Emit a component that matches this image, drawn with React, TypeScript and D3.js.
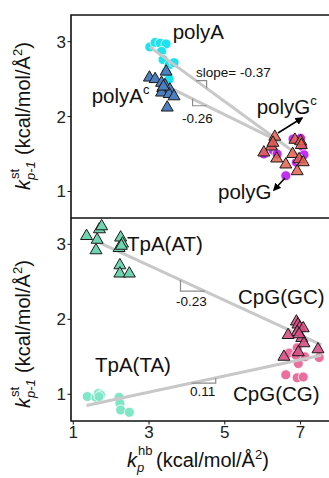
import React from "react";
import * as d3 from "d3";

type P = [number, number];

const xTicks = [1, 3, 5, 7];
const yTicks = [1, 2, 3];

const polyA: P[] = [[3.02,2.93],[3.16,2.99],[3.29,2.98],[3.45,2.97],[3.33,2.87],[3.37,2.76],[3.53,2.69],[3.66,2.72],[3.45,2.59],[3.53,2.50]];
const polyAc: P[] = [[3.01,2.52],[3.16,2.50],[3.45,2.60],[3.33,2.45],[3.42,2.42],[3.36,2.38],[3.55,2.36],[3.33,2.32],[3.53,2.30],[3.66,2.27],[3.48,2.12],[3.38,2.40]];
const polyG: P[] = [[6.61,1.21],[6.03,1.50],[6.28,1.55],[6.38,1.50],[6.80,1.70],[7.00,1.71],[7.05,1.60],[7.09,1.49],[6.89,1.39],[6.97,1.43],[6.25,1.62]];
const polyGc: P[] = [[6.32,1.73],[6.23,1.60],[6.03,1.52],[6.37,1.44],[6.61,1.36],[6.79,1.50],[6.85,1.69],[7.00,1.67],[6.96,1.43],[7.07,1.39],[6.91,1.27],[6.27,1.65],[7.02,1.62]];

const tpaAT: P[] = [[1.35,3.11],[1.63,3.06],[1.69,3.20],[1.75,3.24],[1.60,2.92],[2.25,3.09],[2.30,3.01],[2.21,2.95],[2.27,2.98],[2.23,2.72],[2.23,2.61],[2.48,2.61]];
const cpgGC: P[] = [[6.89,1.97],[6.93,1.93],[6.98,1.89],[6.91,1.83],[7.07,1.88],[6.67,1.79],[7.03,1.75],[7.09,1.68],[6.94,1.56],[7.46,1.60],[6.56,1.50],[6.96,1.80]];
const cpgCG: P[] = [[6.70,1.55],[6.91,1.62],[6.98,1.48],[6.94,1.41],[6.61,1.26],[6.91,1.22],[7.07,1.23],[7.49,1.49],[7.11,1.50],[6.88,1.52]];
const tpaTA: P[] = [[1.37,0.97],[1.60,0.96],[1.66,1.01],[1.72,0.99],[2.21,0.96],[2.23,0.88],[2.25,0.79],[2.48,0.76],[1.68,0.97]];

// regression fits: [x0, y0, x1, y1]
const fitPolyA = [3.02, 2.93, 6.98, 1.47];
const fitPolyAc = [3.01, 2.52, 6.35, 1.69];
const fitAT = [1.53, 3.06, 7.55, 1.66];
const fitTA = [1.35, 0.85, 7.55, 1.52];

// slope marker x-ranges
const slopeMarkPolyA = [4.24, 4.52];
const slopeMarkPolyAc = [4.15, 4.52];
const slopeMarkAT = [3.83, 4.47];
const slopeMarkTA = [4.12, 4.76];

const FONT = "Liberation Sans, Arial, sans-serif";

const x = d3.scaleLinear().domain([0.94, 7.75]).range([71, 329]);
const yTop = d3.scaleLinear().domain([0.646, 3.356]).range([218, 15]);
const yBot = d3.scaleLinear().domain([0.644, 3.351]).range([421, 218]);

const lineAt = (f: number[], xv: number) => f[1] + ((f[3] - f[1]) / (f[2] - f[0])) * (xv - f[0]);

function Circles({ data, y, fill, stroke }: { data: P[]; y: any; fill: string; stroke: string }) {
  return (
    <g>
      {data.map((d, i) => (
        <circle key={i} cx={x(d[0])} cy={y(d[1])} r={5} fill={fill} stroke={stroke} strokeWidth={0.8} />
      ))}
    </g>
  );
}

function Triangles({ data, y, fill, opacity = 1 }: { data: P[]; y: any; fill: string; opacity?: number }) {
  const sym = d3.symbol().type(d3.symbolTriangle).size(62);
  const path = sym() as string;
  return (
    <g>
      {data.map((d, i) => (
        <path key={i} d={path} transform={`translate(${x(d[0])},${y(d[1])})`} fill={fill} fillOpacity={opacity} stroke="#1a1a1a" strokeWidth={1} />
      ))}
    </g>
  );
}

function Fit({ f, y }: { f: number[]; y: any }) {
  return <line x1={x(f[0])} y1={y(f[1])} x2={x(f[2])} y2={y(f[3])} stroke="#c8c8c8" strokeWidth={3} />;
}

// mode "above": horizontal then vertical; "below": vertical then horizontal
function SlopeMark({ f, r, y, mode }: { f: number[]; r: number[]; y: any; mode: "above" | "below" }) {
  const x1 = x(r[0]), x2 = x(r[1]);
  const y1 = y(lineAt(f, r[0])), y2 = y(lineAt(f, r[1]));
  const d = mode === "above" ? `M${x1},${y1}H${x2}V${y2}` : `M${x1},${y1}V${y2}H${x2}`;
  return <path d={d} fill="none" stroke="#8c8c8c" strokeWidth={1.2} />;
}

function YLabel({ cy }: { cy: number }) {
  const x0 = -86;
  return (
    <g transform={`translate(30,${cy}) rotate(-90)`} fontFamily={FONT} fill="#111">
      <text x={x0} y={0} fontSize={20} fontStyle="italic">k</text>
      <text x={x0 + 11} y={-11} fontSize={13}>st</text>
      <text x={x0 + 10} y={5} fontSize={13} fontStyle="italic">p-1</text>
      <text x={x0 + 35} y={0} fontSize={20}>
        (kcal/mol/Å<tspan dy={-8} fontSize={13}>2</tspan><tspan dy={8} fontSize={20}>)</tspan>
      </text>
    </g>
  );
}

function Arrow({ x1, y1, x2, y2 }: { x1: number; y1: number; x2: number; y2: number }) {
  return <line x1={x1} y1={y1} x2={x2} y2={y2} stroke="#000" strokeWidth={1.6} markerEnd="url(#arr)" />;
}

export default function App() {
  return (
    <svg width={329} height={478} style={{ position: "absolute", left: 0, top: 0, background: "#fff" }} fontFamily={FONT}>
      <defs>
        <marker id="arr" viewBox="0 0 10 10" refX={8} refY={5} markerWidth={5} markerHeight={5} orient="auto">
          <path d="M0,0L10,5L0,10z" fill="#000" />
        </marker>
      </defs>
      <rect x={0} y={0} width={329} height={478} fill="#fff" />

      {/* top panel */}
      <Circles data={polyA} y={yTop} fill="#1ee3ef" stroke="#fff" />
      <Circles data={polyG} y={yTop} fill="#c12ff0" stroke="#fff" />
      <Fit f={fitPolyA} y={yTop} />
      <Fit f={fitPolyAc} y={yTop} />
      <Triangles data={polyAc} y={yTop} fill="#4d7fc0" />
      <Triangles data={polyGc} y={yTop} fill="#e4604c" opacity={0.85} />
      <SlopeMark f={fitPolyA} r={slopeMarkPolyA} y={yTop} mode="above" />
      <SlopeMark f={fitPolyAc} r={slopeMarkPolyAc} y={yTop} mode="below" />
      <text x={196} y={77} fontSize={13.5} fill="#111">slope= -0.37</text>
      <text x={182} y={123} fontSize={13.5} fill="#111">-0.26</text>
      <text x={172.7} y={39} fontSize={20.5} fill="#111">polyA</text>
      <text x={91.7} y={103} fontSize={20.5} fill="#111">polyA<tspan dy={-9} fontSize={13}>c</tspan></text>
      <text x={256.7} y={114} fontSize={20.5} fill="#111">polyG<tspan dy={-9} fontSize={13}>c</tspan></text>
      <text x={218} y={199} fontSize={20.5} fill="#111">polyG</text>
      <Arrow x1={278} y1={133} x2={302} y2={118} />
      <Arrow x1={285} y1={178} x2={274} y2={190} />

      {/* bottom panel */}
      <Circles data={tpaTA} y={yBot} fill="#7fe6c6" stroke="#fff" />
      <Circles data={cpgCG} y={yBot} fill="#ea6f9c" stroke="#fff" />
      <Fit f={fitAT} y={yBot} />
      <Fit f={fitTA} y={yBot} />
      <Triangles data={tpaAT} y={yBot} fill="#6fd4b0" />
      <Triangles data={cpgGC} y={yBot} fill="#d64f84" opacity={0.9} />
      <SlopeMark f={fitAT} r={slopeMarkAT} y={yBot} mode="below" />
      <SlopeMark f={fitTA} r={slopeMarkTA} y={yBot} mode="above" />
      <text x={176} y={306} fontSize={13.5} fill="#111">-0.23</text>
      <text x={190} y={396} fontSize={13.5} fill="#111">0.11</text>
      <text x={127} y={251} fontSize={20.5} fill="#111">TpA(AT)</text>
      <text x={238} y={304} fontSize={20.5} fill="#111">CpG(GC)</text>
      <text x={95} y={372} fontSize={20.5} fill="#111">TpA(TA)</text>
      <text x={233} y={401} fontSize={20.5} fill="#111">CpG(CG)</text>

      {/* frames */}
      <path d="M340,15H71V218H340" fill="none" stroke="#111" strokeWidth={1.6} />
      <path d="M71,218V421H340" fill="none" stroke="#111" strokeWidth={1.6} />

      {/* y axes */}
      {[yTop, yBot].map((ys, k) => (
        <g key={k}>
          {yTicks.map((t) => (
            <g key={t}>
              <line x1={67.5} x2={71} y1={ys(t)} y2={ys(t)} stroke="#111" strokeWidth={1} />
              <text x={66} y={ys(t)} dy="0.35em" textAnchor="end" fontSize={17} fill="#222">{t}</text>
            </g>
          ))}
        </g>
      ))}

      {/* x axis */}
      {xTicks.map((t) => (
        <g key={t}>
          <line x1={x(t)} x2={x(t)} y1={421} y2={424.5} stroke="#111" strokeWidth={1} />
          <text x={x(t)} y={438} textAnchor="middle" fontSize={17} fill="#222">{t}</text>
        </g>
      ))}

      {/* axis labels */}
      <YLabel cy={104} />
      <YLabel cy={322} />
      <g fill="#111">
        <text x={127} y={467} fontSize={20} fontStyle="italic">k</text>
        <text x={138} y={455} fontSize={13}>hb</text>
        <text x={137} y={472} fontSize={13} fontStyle="italic">p</text>
        <text x={156} y={467} fontSize={20}>
          (kcal/mol/Å<tspan dy={-8} fontSize={13}>2</tspan><tspan dy={8} fontSize={20}>)</tspan>
        </text>
      </g>
    </svg>
  );
}
